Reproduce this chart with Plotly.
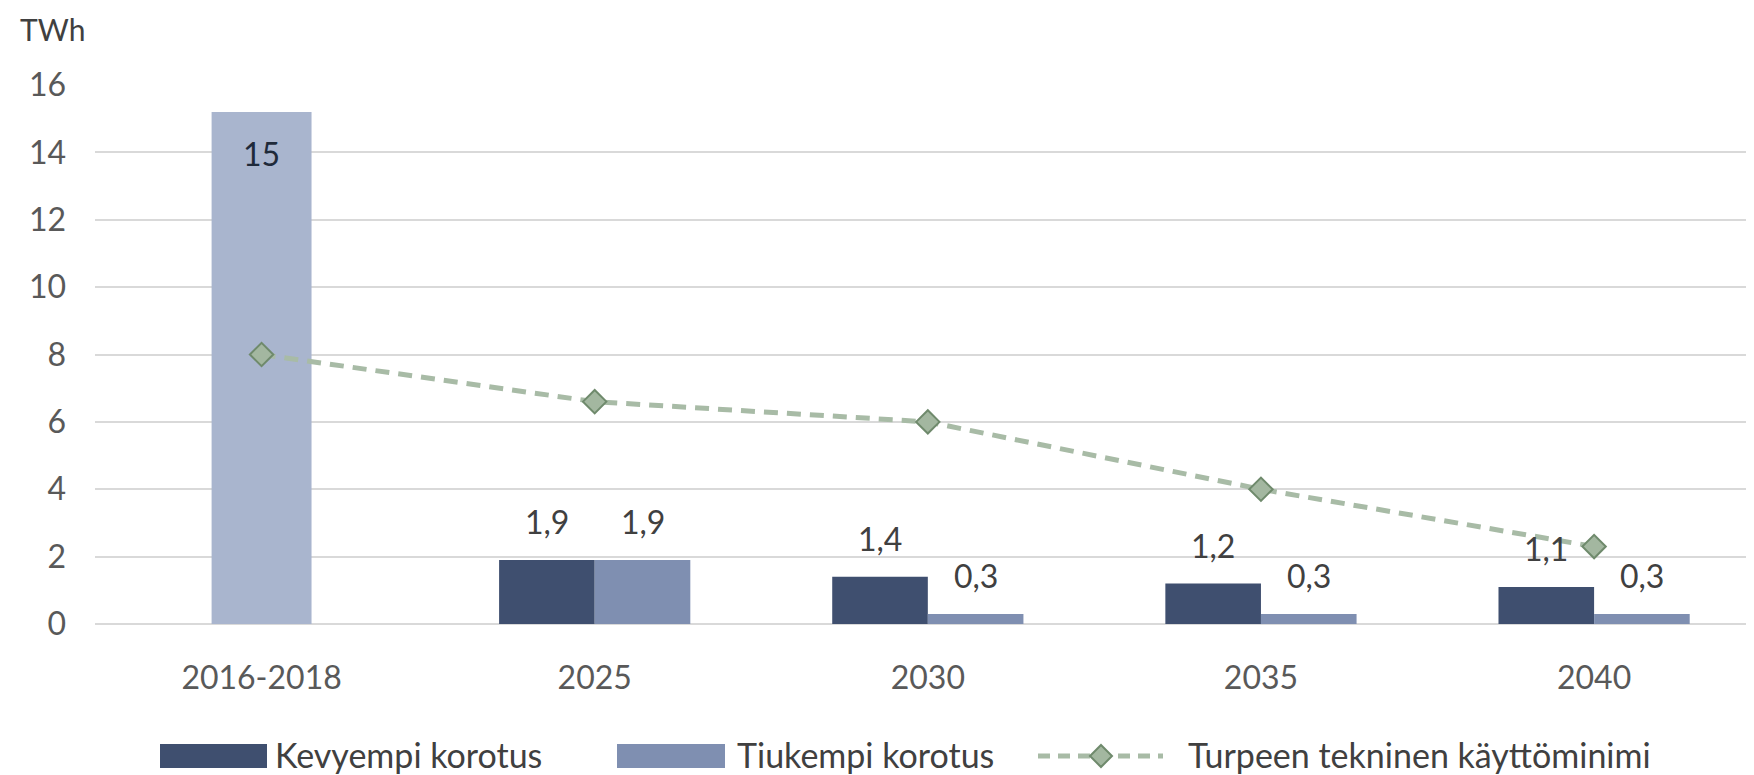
import plotly.graph_objects as go

# ---- data ----
categories = ["2016-2018", "2025", "2030", "2035", "2040"]
hist_category = ["2016-2018"]
hist_value = [15.2]
hist_label = ["15"]
proj_categories = ["2025", "2030", "2035", "2040"]
kevyempi = [1.9, 1.4, 1.2, 1.1]
tiukempi = [1.9, 0.3, 0.3, 0.3]
minimi = [8.0, 6.6, 6.0, 4.0, 2.3]
y_ticks = [0, 2, 4, 6, 8, 10, 12, 14, 16]
names = ["Kevyempi korotus", "Tiukempi korotus", "Turpeen tekninen käyttöminimi"]

# ---- style / layout (page body has an 8px margin) ----
OFF = 8
W, H = 1754 - OFF, 775 - OFF
ML, MR, MT = 95 - OFF, 0, 85 - OFF
MB = H - (624 - OFF)
X_RANGE = [-0.5, 4.48]
PW = W - ML - MR
PH = H - MT - MB
PX_PER_CAT = PW / (X_RANGE[1] - X_RANGE[0])
BW = 0.287
HIST_W = 0.30
C_KEV = "#3F4F6F"
C_TIU = "#7F8FB1"
C_HIST = "#A9B5CE"
C_LINE = "#A8BBA6"
C_MFILL = "#A3B7A0"
C_MEDGE = "#6F8A6C"
GRID = "#D9D9D9"
TXT = "#404040"
TICK = "#595959"
FONT = "Lato"
FS = 32
FS_LEG = 34

fig = go.Figure()
fig.add_trace(go.Bar(x=hist_category, y=hist_value, width=HIST_W, offset=-HIST_W / 2,
                     marker=dict(color=C_HIST, line=dict(width=0)),
                     showlegend=False, hoverinfo="skip"))
fig.add_trace(go.Bar(x=proj_categories, y=kevyempi, width=BW, offset=-BW,
                     marker=dict(color=C_KEV, line=dict(width=0)),
                     name=names[0], showlegend=False))
fig.add_trace(go.Bar(x=proj_categories, y=tiukempi, width=BW, offset=0,
                     marker=dict(color=C_TIU, line=dict(width=0)),
                     name=names[1], showlegend=False))
fig.add_trace(go.Scatter(x=categories, y=minimi, mode="lines+markers", name=names[2],
                         line=dict(color=C_LINE, width=5, dash="14px,9px"),
                         marker=dict(symbol="diamond", size=18, color=C_MFILL,
                                     line=dict(color=C_MEDGE, width=2)),
                         cliponaxis=False, showlegend=False))

annotations = []
def fmt(v):
    return f"{v:.1f}".replace(".", ",")

def cat_idx(c):
    return categories.index(c)

for c, v in zip(proj_categories, kevyempi):
    annotations.append(dict(x=cat_idx(c), y=v, xref="x", yref="y", text=fmt(v), showarrow=False,
                            xshift=-BW * PX_PER_CAT / 2, yshift=38, yanchor="middle",
                            font=dict(family=FONT, size=FS, color=TXT)))
for c, v in zip(proj_categories, tiukempi):
    annotations.append(dict(x=cat_idx(c), y=v, xref="x", yref="y", text=fmt(v), showarrow=False,
                            xshift=BW * PX_PER_CAT / 2, yshift=38, yanchor="middle",
                            font=dict(family=FONT, size=FS, color=TXT)))
for c, v, t in zip(hist_category, hist_value, hist_label):
    annotations.append(dict(x=cat_idx(c), y=v, xref="x", yref="y", text=t, showarrow=False,
                            yshift=-42, yanchor="middle",
                            font=dict(family=FONT, size=FS, color="#1F2A3A")))

# axis unit title
annotations.append(dict(x=0, y=1, xref="paper", yref="paper", text="TWh", showarrow=False,
                        xanchor="left", yanchor="middle", xshift=-76, yshift=56,
                        borderpad=0,
                        font=dict(family=FONT, size=FS - 2, color=TXT)))

# ---- custom legend (reference-pixel -> paper helpers) ----
def px(x):
    return (x - OFF - ML) / PW
def py(y):
    return (H - MB - (y - OFF)) / PH

shapes = []
LY = 756
shapes.append(dict(type="rect", xref="paper", yref="paper", x0=px(160), x1=px(267),
                   y0=py(768), y1=py(744), fillcolor=C_KEV, line_width=0))
shapes.append(dict(type="rect", xref="paper", yref="paper", x0=px(617), x1=px(725),
                   y0=py(768), y1=py(744), fillcolor=C_TIU, line_width=0))
shapes.append(dict(type="line", xref="paper", yref="paper", x0=px(1038), x1=px(1163),
                   y0=py(LY), y1=py(LY), line=dict(color=C_LINE, width=5, dash="12px,8px")))
dcx, dr = 1101, 11
diamond = (f"M {px(dcx)} {py(LY - dr)} L {px(dcx + dr)} {py(LY)} "
           f"L {px(dcx)} {py(LY + dr)} L {px(dcx - dr)} {py(LY)} Z")
shapes.append(dict(type="path", xref="paper", yref="paper", path=diamond,
                   fillcolor=C_MFILL, line=dict(color=C_MEDGE, width=2)))
for xl, t in [(273, names[0]), (735, names[1]), (1186, names[2])]:
    annotations.append(dict(x=px(xl), y=py(LY - 2), xref="paper", yref="paper", text=t,
                            showarrow=False, xanchor="left", yanchor="middle",
                            font=dict(family=FONT, size=FS_LEG, color=TXT)))

fig.update_layout(
    width=W, height=H,
    margin=dict(l=ML, r=MR, t=MT, b=MB, pad=0),
    paper_bgcolor="white", plot_bgcolor="white",
    barmode="overlay",
    showlegend=False,
    font=dict(family=FONT, size=FS, color=TICK),
    xaxis=dict(type="category", range=X_RANGE, showgrid=False, showline=False,
               zeroline=False, ticks="", ticklabelstandoff=32,
               tickfont=dict(family=FONT, size=FS, color=TICK)),
    yaxis=dict(range=[0, 16], tickvals=y_ticks, showgrid=True, gridcolor=GRID,
               gridwidth=2, zeroline=True, zerolinecolor=GRID, zerolinewidth=2,
               showline=False, ticks="", ticklabelstandoff=28,
               tickfont=dict(family=FONT, size=FS, color=TICK)),
    annotations=annotations,
    shapes=shapes,
)

fig.write_html("out.html")
